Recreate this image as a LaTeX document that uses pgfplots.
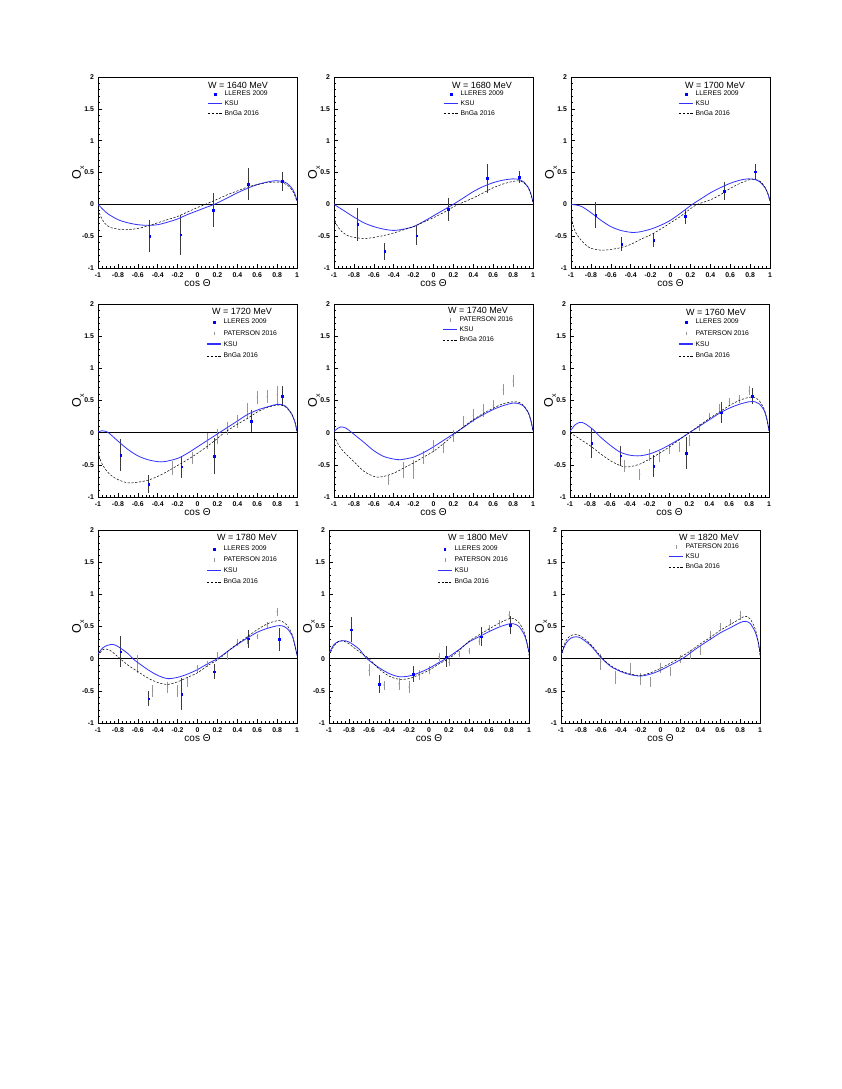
\documentclass[border=0pt]{standalone}
\usepackage{pgfplots}
\pgfplotsset{compat=1.18}
\usepackage{fontspec}
\setmainfont{Liberation Sans}

\definecolor{ksublue}{RGB}{50,50,255}
\definecolor{llblue}{RGB}{0,0,255}
\definecolor{llbar}{RGB}{60,60,60}
\definecolor{patgray}{RGB}{150,150,150}

\newcommand\legfont{\fontsize{6.8}{7}\selectfont}
\newcommand\titlefont{\fontsize{9}{10}\selectfont}

\pgfplotsset{
  panel/.style={
    width=199pt, height=193pt, scale only axis,
    anchor=south west,
    xmin=-1, xmax=1, ymin=-1, ymax=2,
    axis line style={black, line width=0.6pt},
    tick style={black, line width=0.5pt},
    tick pos=left, tick align=inside,
    major tick length=3.5pt, minor tick length=1.8pt,
    xtick={-1,-0.8,-0.6,-0.4,-0.2,0,0.2,0.4,0.6,0.8,1},
    xticklabels={-1,-0.8,-0.6,-0.4,-0.2,0,0.2,0.4,0.6,0.8,1},
    ytick={-1,-0.5,0,0.5,1,1.5,2},
    yticklabels={-1,-0.5,0,0.5,1,1.5,2},
    minor x tick num=4, minor y tick num=4,
    ticklabel style={font=\bfseries\fontsize{6.9}{7}\selectfont},
    xticklabel style={yshift=-1.5pt},
    yticklabel style={xshift=-0.5pt},
    xlabel={cos Θ},
    xlabel style={font=\fontsize{10}{11}\selectfont, at={(axis description cs:0.5,0)}, yshift=-15pt, anchor=center},
    ylabel={O\raisebox{-0.25em}{\fontsize{7}{7}\selectfont x}},
    ylabel style={font=\fontsize{12.5}{13}\selectfont, at={(axis description cs:-0.1,0.5)}, anchor=center},
    legend style={draw=none, fill=none, font=\legfont, inner sep=0pt,
      column sep=2pt, anchor=north west,
      nodes={inner sep=0pt, text height=4.9pt, text depth=1.4pt}},
    legend cell align=left,
  },
  zero/.style={black, line width=0.6pt, forget plot},
  ksu/.style={ksublue, line width=0.8pt, smooth, no markers,
    legend image code/.code={\draw[ksublue, line width=1.3pt] (0pt,0.5pt) -- (14pt,0.5pt);}},
  bnga/.style={black, line width=0.5pt, smooth, no markers, dash pattern=on 2.2pt off 1.6pt,
    legend image code/.code={\draw[black, line width=0.5pt, dash pattern=on 2.2pt off 1.6pt] (0pt,0pt) -- (14pt,0pt);}},
  lleres/.style={only marks, mark=square*, mark size=0.8pt, llblue,
    error bars/.cd, y dir=both, y explicit, error mark=none,
    error bar style={llbar, line width=0.8pt},
    /pgfplots/legend image code/.code={\draw[llblue, mark=square*, mark size=0.8pt, only marks] plot coordinates {(7pt,0pt)};}},
  paterson/.style={only marks, mark=*, mark size=0.35pt, patgray,
    error bars/.cd, y dir=both, y explicit, error mark=none,
    error bar style={patgray, line width=0.7pt},
    /pgfplots/legend image code/.code={\draw[patgray, line width=0.6pt] (7pt,-1.8pt) -- (7pt,1.8pt);}},
}

\begin{document}
\begin{tikzpicture}
\fill[white] (0,0) rectangle (842pt,1089pt);
\path[use as bounding box] (0,0) rectangle (842pt,1089pt);

% ---------------- row 1 ----------------
\begin{axis}[panel, at={(98pt,821pt)}, height=191pt,
  legend style={at={(0.548,0.928)}, row sep=3.4pt}]
\addplot[zero] coordinates {(-1,0) (1,0)};
\addplot[lleres] coordinates {
  (-0.48,-0.50) +- (0,0.25) (-0.17,-0.48) +- (0,0.32) (0.16,-0.09) +- (0,0.27)
  (0.51,0.32) +- (0,0.25) (0.85,0.36) +- (0,0.15)};
\addlegendentry{LLERES 2009}
\addplot[ksu] coordinates {
  (-1,0.0) (-0.95,-0.08) (-0.9,-0.15) (-0.8,-0.24) (-0.7,-0.29) (-0.6,-0.32) (-0.5,-0.33)
  (-0.4,-0.32) (-0.3,-0.28) (-0.2,-0.23) (-0.1,-0.16) (0,-0.1) (0.1,-0.04) (0.17,0)
  (0.3,0.1) (0.4,0.18) (0.5,0.25) (0.6,0.31) (0.7,0.35) (0.78,0.37) (0.85,0.36)
  (0.9,0.33) (0.95,0.25) (0.98,0.16) (1,0.05)};
\addlegendentry{KSU}
\addplot[bnga] coordinates {
  (-1,-0.08) (-0.97,-0.2) (-0.93,-0.3) (-0.88,-0.36) (-0.8,-0.39) (-0.72,-0.40) (-0.6,-0.38)
  (-0.5,-0.34) (-0.4,-0.29) (-0.3,-0.24) (-0.2,-0.19) (-0.1,-0.12) (0,-0.05) (0.08,0)
  (0.2,0.08) (0.3,0.15) (0.4,0.21) (0.5,0.27) (0.6,0.31) (0.7,0.34) (0.8,0.35)
  (0.87,0.33) (0.92,0.28) (0.96,0.2) (1,0.05)};
\addlegendentry{BnGa 2016}
\node[font=\titlefont] at (rel axis cs:0.704,0.958) {W = 1640 MeV};
\end{axis}

\begin{axis}[panel, at={(334pt,821pt)}, height=191pt,
  legend style={at={(0.548,0.928)}, row sep=3.4pt}]
\addplot[zero] coordinates {(-1,0) (1,0)};
\addplot[lleres] coordinates {
  (-0.76,-0.31) +- (0,0.26) (-0.49,-0.74) +- (0,0.13) (-0.17,-0.49) +- (0,0.15)
  (0.15,-0.08) +- (0,0.18) (0.54,0.41) +- (0,0.23) (0.86,0.43) +- (0,0.10)};
\addlegendentry{LLERES 2009}
\addplot[ksu] coordinates {
  (-1,0) (-0.9,-0.1) (-0.8,-0.2) (-0.7,-0.29) (-0.6,-0.35) (-0.5,-0.39) (-0.4,-0.41)
  (-0.3,-0.39) (-0.2,-0.35) (-0.1,-0.27) (0,-0.18) (0.1,-0.09) (0.2,0) (0.3,0.1)
  (0.4,0.2) (0.5,0.28) (0.6,0.34) (0.7,0.38) (0.8,0.40) (0.86,0.39) (0.9,0.36)
  (0.95,0.27) (0.98,0.16) (1,0.03)};
\addlegendentry{KSU}
\addplot[bnga] coordinates {
  (-1,-0.2) (-0.97,-0.33) (-0.92,-0.43) (-0.85,-0.5) (-0.75,-0.53) (-0.7,-0.54) (-0.6,-0.52)
  (-0.5,-0.49) (-0.4,-0.45) (-0.3,-0.40) (-0.2,-0.35) (-0.1,-0.28) (0,-0.21) (0.1,-0.13)
  (0.2,-0.04) (0.25,0) (0.4,0.1) (0.5,0.18) (0.6,0.26) (0.7,0.32) (0.8,0.36) (0.86,0.37)
  (0.9,0.35) (0.95,0.27) (0.98,0.15) (1,0.03)};
\addlegendentry{BnGa 2016}
\node[font=\titlefont] at (rel axis cs:0.744,0.958) {W = 1680 MeV};
\end{axis}

\begin{axis}[panel, at={(571pt,821pt)}, height=191pt,
  legend style={at={(0.538,0.928)}, row sep=3.4pt}]
\addplot[zero] coordinates {(-1,0) (1,0)};
\addplot[lleres] coordinates {
  (-0.75,-0.17) +- (0,0.2) (-0.49,-0.63) +- (0,0.11) (-0.17,-0.56) +- (0,0.11)
  (0.15,-0.19) +- (0,0.12) (0.54,0.21) +- (0,0.14) (0.85,0.51) +- (0,0.12)};
\addlegendentry{LLERES 2009}
\addplot[ksu] coordinates {
  (-1,0) (-0.9,-0.03) (-0.8,-0.13) (-0.7,-0.25) (-0.6,-0.35) (-0.5,-0.41) (-0.4,-0.44)
  (-0.35,-0.44) (-0.3,-0.43) (-0.2,-0.39) (-0.1,-0.33) (0,-0.25) (0.1,-0.14) (0.22,0)
  (0.3,0.08) (0.4,0.18) (0.5,0.26) (0.6,0.33) (0.7,0.38) (0.78,0.40) (0.85,0.39)
  (0.9,0.35) (0.95,0.26) (0.98,0.16) (1,0.05)};
\addlegendentry{KSU}
\addplot[bnga] coordinates {
  (-1,-0.15) (-0.98,-0.32) (-0.95,-0.45) (-0.9,-0.56) (-0.85,-0.64) (-0.8,-0.69) (-0.7,-0.72)
  (-0.6,-0.71) (-0.5,-0.68) (-0.4,-0.63) (-0.3,-0.55) (-0.2,-0.48) (-0.1,-0.39) (0,-0.29)
  (0.1,-0.19) (0.2,-0.07) (0.27,0) (0.4,0.07) (0.5,0.15) (0.6,0.25) (0.7,0.33) (0.8,0.39)
  (0.85,0.39) (0.9,0.36) (0.95,0.27) (0.98,0.16) (1,0.05)};
\addlegendentry{BnGa 2016}
\node[font=\titlefont] at (rel axis cs:0.724,0.958) {W = 1700 MeV};
\end{axis}

% ---------------- row 2 ----------------
\begin{axis}[panel, at={(98pt,592pt)},
  legend style={at={(0.543,0.924)}, row sep=5pt}]
\addplot[zero] coordinates {(-1,0) (1,0)};
\addplot[lleres] coordinates {
  (-0.77,-0.35) +- (0,0.25) (-0.49,-0.80) +- (0,0.14) (-0.16,-0.53) +- (0,0.17)
  (0.17,-0.37) +- (0,0.28) (0.54,0.18) +- (0,0.17) (0.85,0.57) +- (0,0.16)};
\addlegendentry{LLERES 2009}
\addplot[paterson] coordinates {
  (-0.25,-0.55) +- (0,0.11) (-0.05,-0.39) +- (0,0.09) (0.1,-0.13) +- (0,0.13)
  (0.2,-0.06) +- (0,0.12) (0.3,0.06) +- (0,0.1) (0.4,0.18) +- (0,0.1)
  (0.5,0.34) +- (0,0.12) (0.6,0.55) +- (0,0.1) (0.7,0.56) +- (0,0.1) (0.8,0.59) +- (0,0.14)};
\addlegendentry{PATERSON 2016}
\addplot[ksu] coordinates {
  (-1,0.01) (-0.96,0.03) (-0.92,0.02) (-0.88,-0.02) (-0.8,-0.13) (-0.7,-0.26) (-0.6,-0.36)
  (-0.5,-0.42) (-0.4,-0.45) (-0.33,-0.45) (-0.2,-0.40) (-0.1,-0.32) (0,-0.22) (0.1,-0.12)
  (0.22,0) (0.3,0.08) (0.4,0.18) (0.5,0.28) (0.6,0.35) (0.7,0.40) (0.8,0.44) (0.86,0.43)
  (0.9,0.39) (0.95,0.28) (0.98,0.16) (1,0.02)};
\addlegendentry{KSU}
\addplot[bnga] coordinates {
  (-1,-0.3) (-0.97,-0.45) (-0.93,-0.56) (-0.88,-0.65) (-0.8,-0.73) (-0.7,-0.78) (-0.6,-0.77)
  (-0.5,-0.74) (-0.4,-0.68) (-0.3,-0.6) (-0.2,-0.51) (-0.1,-0.42) (0,-0.32) (0.1,-0.21)
  (0.2,-0.09) (0.27,0) (0.4,0.13) (0.5,0.22) (0.6,0.32) (0.7,0.39) (0.8,0.43) (0.86,0.42)
  (0.9,0.38) (0.95,0.28) (0.98,0.16) (1,0.02)};
\addlegendentry{BnGa 2016}
\node[font=\titlefont] at (rel axis cs:0.724,0.964) {W = 1720 MeV};
\end{axis}

\begin{axis}[panel, at={(334pt,592pt)},
  legend style={at={(0.543,0.934)}, row sep=3.7pt}]
\addplot[zero] coordinates {(-1,0) (1,0)};
\addplot[paterson] coordinates {
  (-0.45,-0.74) +- (0,0.08) (-0.3,-0.58) +- (0,0.12) (-0.2,-0.57) +- (0,0.15)
  (-0.1,-0.38) +- (0,0.1) (0,-0.21) +- (0,0.09) (0.1,-0.24) +- (0,0.08)
  (0.2,-0.05) +- (0,0.09) (0.3,0.17) +- (0,0.09) (0.4,0.27) +- (0,0.1)
  (0.5,0.35) +- (0,0.1) (0.6,0.43) +- (0,0.08) (0.7,0.67) +- (0,0.08) (0.8,0.80) +- (0,0.09)};
\addlegendentry{PATERSON 2016}
\addplot[ksu] coordinates {
  (-1,0.02) (-0.96,0.07) (-0.93,0.09) (-0.88,0.07) (-0.82,0) (-0.7,-0.15) (-0.6,-0.28)
  (-0.5,-0.37) (-0.4,-0.41) (-0.33,-0.42) (-0.2,-0.38) (-0.1,-0.31) (0,-0.22) (0.1,-0.12)
  (0.22,0) (0.3,0.08) (0.4,0.19) (0.5,0.28) (0.6,0.36) (0.7,0.42) (0.8,0.46) (0.86,0.45)
  (0.9,0.42) (0.95,0.32) (0.98,0.18) (1,0.03)};
\addlegendentry{KSU}
\addplot[bnga] coordinates {
  (-1,-0.05) (-0.95,-0.2) (-0.9,-0.3) (-0.8,-0.45) (-0.7,-0.6) (-0.6,-0.68) (-0.55,-0.69)
  (-0.5,-0.68) (-0.4,-0.63) (-0.3,-0.55) (-0.2,-0.47) (-0.1,-0.38) (0,-0.29) (0.1,-0.17)
  (0.23,0) (0.3,0.09) (0.4,0.2) (0.5,0.3) (0.6,0.38) (0.7,0.45) (0.8,0.48) (0.86,0.47)
  (0.9,0.43) (0.95,0.32) (0.98,0.18) (1,0.03)};
\addlegendentry{BnGa 2016}
\node[font=\titlefont] at (rel axis cs:0.724,0.969) {W = 1740 MeV};
\end{axis}

\begin{axis}[panel, at={(570pt,592pt)},
  legend style={at={(0.543,0.924)}, row sep=5pt}]
\addplot[zero] coordinates {(-1,0) (1,0)};
\addplot[lleres] coordinates {
  (-0.78,-0.16) +- (0,0.23) (-0.49,-0.36) +- (0,0.16) (-0.16,-0.52) +- (0,0.17)
  (0.17,-0.32) +- (0,0.25) (0.52,0.31) +- (0,0.16) (0.83,0.57) +- (0,0.12)};
\addlegendentry{LLERES 2009}
\addplot[paterson] coordinates {
  (-0.45,-0.52) +- (0,0.09) (-0.3,-0.65) +- (0,0.09) (-0.2,-0.35) +- (0,0.09)
  (-0.1,-0.37) +- (0,0.09) (0,-0.25) +- (0,0.08) (0.1,-0.22) +- (0,0.08)
  (0.2,-0.12) +- (0,0.08) (0.3,0.08) +- (0,0.06) (0.4,0.25) +- (0,0.06)
  (0.5,0.38) +- (0,0.07) (0.6,0.48) +- (0,0.06) (0.7,0.52) +- (0,0.06) (0.8,0.65) +- (0,0.07)};
\addlegendentry{PATERSON 2016}
\addplot[ksu] coordinates {
  (-1,0.02) (-0.95,0.12) (-0.9,0.16) (-0.85,0.14) (-0.77,0.05) (-0.7,-0.06) (-0.6,-0.19)
  (-0.5,-0.3) (-0.4,-0.35) (-0.3,-0.36) (-0.2,-0.33) (-0.1,-0.27) (0,-0.19) (0.1,-0.1)
  (0.2,0) (0.3,0.1) (0.4,0.2) (0.5,0.3) (0.6,0.38) (0.7,0.44) (0.8,0.48) (0.86,0.48)
  (0.9,0.45) (0.95,0.35) (0.98,0.2) (1,0.03)};
\addlegendentry{KSU}
\addplot[bnga] coordinates {
  (-1,0) (-0.9,-0.1) (-0.8,-0.2) (-0.7,-0.32) (-0.6,-0.43) (-0.5,-0.51) (-0.45,-0.53)
  (-0.4,-0.53) (-0.3,-0.49) (-0.2,-0.41) (-0.1,-0.32) (0,-0.22) (0.1,-0.11) (0.2,0)
  (0.3,0.11) (0.4,0.22) (0.5,0.32) (0.6,0.42) (0.7,0.5) (0.8,0.55) (0.85,0.55) (0.9,0.5)
  (0.95,0.37) (0.98,0.2) (1,0.03)};
\addlegendentry{BnGa 2016}
\node[font=\titlefont] at (rel axis cs:0.734,0.959) {W = 1760 MeV};
\end{axis}

% ---------------- row 3 ----------------
\begin{axis}[panel, at={(98pt,366pt)},
  legend style={at={(0.543,0.919)}, row sep=4.7pt}]
\addplot[zero] coordinates {(-1,0) (1,0)};
\addplot[lleres] coordinates {
  (-0.77,0.11) +- (0,0.24) (-0.49,-0.62) +- (0,0.12) (-0.16,-0.55) +- (0,0.25)
  (0.17,-0.20) +- (0,0.11) (0.51,0.31) +- (0,0.14) (0.82,0.30) +- (0,0.18)};
\addlegendentry{LLERES 2009}
\addplot[paterson] coordinates {
  (-0.6,-0.08) +- (0,0.14) (-0.45,-0.50) +- (0,0.09) (-0.3,-0.45) +- (0,0.09)
  (-0.2,-0.50) +- (0,0.09) (-0.1,-0.36) +- (0,0.08) (0,-0.16) +- (0,0.06)
  (0.1,-0.08) +- (0,0.05) (0.2,0.05) +- (0,0.06) (0.3,0.04) +- (0,0.06)
  (0.4,0.25) +- (0,0.05) (0.5,0.29) +- (0,0.06) (0.6,0.34) +- (0,0.04)
  (0.7,0.52) +- (0,0.05) (0.8,0.73) +- (0,0.06)};
\addlegendentry{PATERSON 2016}
\addplot[ksu] coordinates {
  (-1,0.08) (-0.95,0.17) (-0.9,0.21) (-0.85,0.22) (-0.8,0.19) (-0.7,0.08) (-0.65,0)
  (-0.6,-0.06) (-0.5,-0.17) (-0.4,-0.26) (-0.3,-0.31) (-0.2,-0.29) (-0.1,-0.24) (0,-0.17)
  (0.1,-0.08) (0.2,0) (0.3,0.11) (0.4,0.22) (0.5,0.32) (0.6,0.41) (0.7,0.47) (0.8,0.51)
  (0.85,0.51) (0.9,0.47) (0.95,0.36) (0.98,0.2) (1,0.05)};
\addlegendentry{KSU}
\addplot[bnga] coordinates {
  (-1,0.04) (-0.96,0.13) (-0.92,0.15) (-0.87,0.12) (-0.8,0.03) (-0.7,-0.1) (-0.6,-0.2)
  (-0.5,-0.3) (-0.4,-0.37) (-0.3,-0.40) (-0.2,-0.36) (-0.1,-0.29) (0,-0.22) (0.1,-0.11)
  (0.22,0) (0.3,0.11) (0.4,0.23) (0.5,0.34) (0.6,0.45) (0.7,0.54) (0.8,0.59) (0.85,0.58)
  (0.9,0.52) (0.95,0.38) (0.98,0.2) (1,0.05)};
\addlegendentry{BnGa 2016}
\node[font=\titlefont] at (rel axis cs:0.749,0.964) {W = 1780 MeV};
\end{axis}

\begin{axis}[panel, at={(329pt,366pt)}, width=200pt,
  legend style={at={(0.54,0.919)}, row sep=4.7pt}]
\addplot[zero] coordinates {(-1,0) (1,0)};
\addplot[lleres] coordinates {
  (-0.78,0.45) +- (0,0.19) (-0.5,-0.40) +- (0,0.14) (-0.16,-0.24) +- (0,0.12)
  (0.17,0.03) +- (0,0.16) (0.52,0.34) +- (0,0.15) (0.81,0.52) +- (0,0.14)};
\addlegendentry{LLERES 2009}
\addplot[paterson] coordinates {
  (-0.6,-0.18) +- (0,0.09) (-0.45,-0.41) +- (0,0.07) (-0.3,-0.39) +- (0,0.09)
  (-0.2,-0.44) +- (0,0.09) (-0.1,-0.25) +- (0,0.08) (0,-0.18) +- (0,0.06)
  (0.1,0.03) +- (0,0.06) (0.2,-0.06) +- (0,0.06) (0.3,0.07) +- (0,0.05)
  (0.4,0.12) +- (0,0.05) (0.5,0.27) +- (0,0.06) (0.6,0.47) +- (0,0.05)
  (0.7,0.55) +- (0,0.05) (0.8,0.68) +- (0,0.06)};
\addlegendentry{PATERSON 2016}
\addplot[ksu] coordinates {
  (-1,0.08) (-0.95,0.22) (-0.9,0.27) (-0.86,0.28) (-0.8,0.26) (-0.7,0.15) (-0.62,0)
  (-0.5,-0.14) (-0.4,-0.23) (-0.3,-0.28) (-0.2,-0.27) (-0.1,-0.22) (0,-0.15) (0.1,-0.06)
  (0.17,0) (0.3,0.14) (0.4,0.26) (0.5,0.34) (0.6,0.42) (0.7,0.49) (0.8,0.54) (0.85,0.54)
  (0.9,0.5) (0.95,0.38) (0.98,0.24) (1,0.1)};
\addlegendentry{KSU}
\addplot[bnga] coordinates {
  (-1,0.05) (-0.95,0.2) (-0.9,0.27) (-0.85,0.27) (-0.8,0.23) (-0.7,0.11) (-0.6,0)
  (-0.5,-0.16) (-0.4,-0.27) (-0.3,-0.32) (-0.2,-0.31) (-0.1,-0.25) (0,-0.18) (0.1,-0.08)
  (0.2,0) (0.3,0.13) (0.4,0.27) (0.5,0.37) (0.6,0.46) (0.7,0.55) (0.8,0.62) (0.85,0.62)
  (0.9,0.56) (0.95,0.42) (0.98,0.24) (1,0.05)};
\addlegendentry{BnGa 2016}
\node[font=\titlefont] at (rel axis cs:0.745,0.964) {W = 1800 MeV};
\end{axis}

\begin{axis}[panel, at={(561pt,366pt)},
  legend style={at={(0.538,0.929)}, row sep=3.7pt}]
\addplot[zero] coordinates {(-1,0) (1,0)};
\addplot[paterson] coordinates {
  (-0.6,-0.05) +- (0,0.13) (-0.45,-0.29) +- (0,0.1) (-0.3,-0.16) +- (0,0.1)
  (-0.2,-0.32) +- (0,0.09) (-0.1,-0.36) +- (0,0.08) (0,-0.15) +- (0,0.08)
  (0.1,-0.2) +- (0,0.07) (0.2,0.0) +- (0,0.06) (0.3,0.06) +- (0,0.07)
  (0.4,0.12) +- (0,0.07) (0.5,0.36) +- (0,0.07) (0.6,0.5) +- (0,0.05)
  (0.7,0.57) +- (0,0.05) (0.8,0.67) +- (0,0.07)};
\addlegendentry{PATERSON 2016}
\addplot[ksu] coordinates {
  (-1,0.06) (-0.95,0.24) (-0.9,0.32) (-0.85,0.34) (-0.8,0.32) (-0.7,0.2) (-0.6,0.02)
  (-0.5,-0.12) (-0.4,-0.2) (-0.3,-0.25) (-0.2,-0.27) (-0.1,-0.24) (0,-0.18) (0.1,-0.1)
  (0.22,0) (0.3,0.09) (0.4,0.2) (0.5,0.3) (0.6,0.4) (0.7,0.48) (0.8,0.56) (0.85,0.58)
  (0.9,0.55) (0.95,0.42) (0.98,0.27) (1,0.1)};
\addlegendentry{KSU}
\addplot[bnga] coordinates {
  (-1,0.05) (-0.95,0.28) (-0.9,0.36) (-0.86,0.38) (-0.8,0.35) (-0.7,0.22) (-0.58,0)
  (-0.5,-0.11) (-0.4,-0.19) (-0.3,-0.24) (-0.2,-0.26) (-0.1,-0.22) (0,-0.15) (0.1,-0.07)
  (0.18,0) (0.3,0.12) (0.4,0.23) (0.5,0.33) (0.6,0.44) (0.7,0.53) (0.8,0.62) (0.85,0.66)
  (0.9,0.62) (0.95,0.47) (0.98,0.28) (1,0.05)};
\addlegendentry{BnGa 2016}
\node[font=\titlefont] at (rel axis cs:0.744,0.964) {W = 1820 MeV};
\end{axis}
\end{tikzpicture}
\end{document}
